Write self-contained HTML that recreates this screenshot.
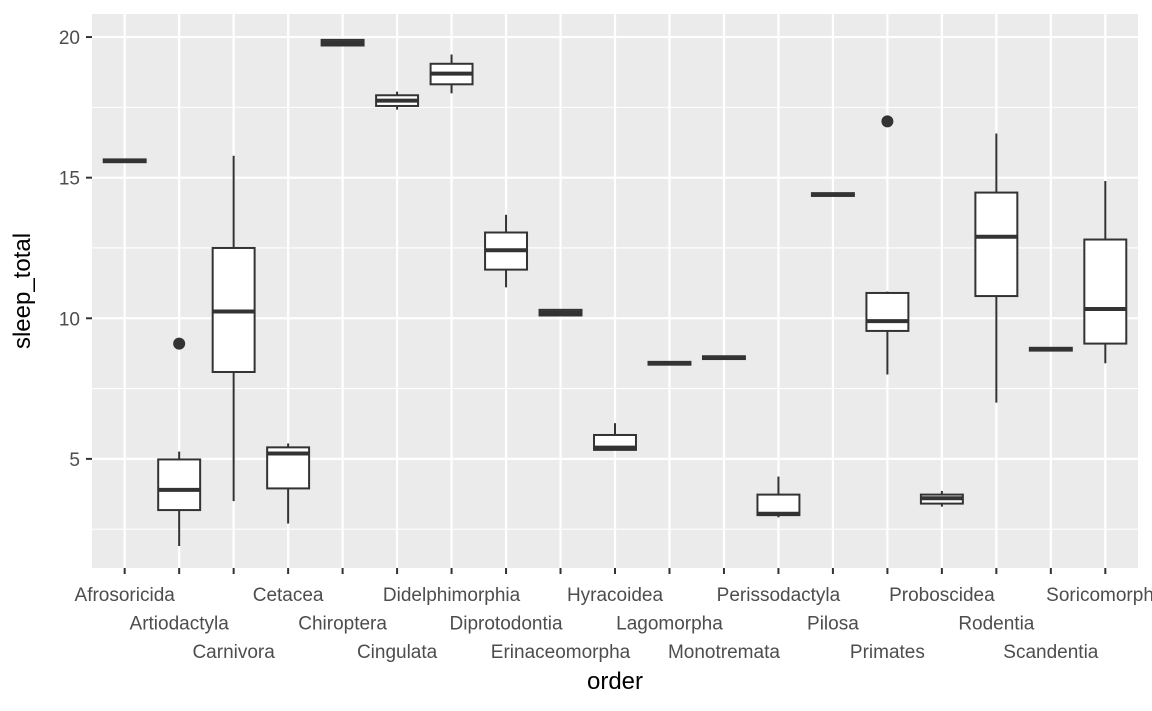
<!DOCTYPE html>
<html><head><meta charset="utf-8"><style>
body{margin:0;background:#fff;width:1152px;height:711px;overflow:hidden}
svg{display:block;font-family:"Liberation Sans","DejaVu Sans",sans-serif}
</style></head><body>
<svg id="chart" width="1152" height="711">
<rect x="92" y="14" width="1046" height="554" fill="#ebebeb"/>
<g id="grid"></g><g id="boxes"></g><g id="axes"></g>
<text x="615" y="689" text-anchor="middle" font-size="24" fill="#000">order</text>
<text transform="translate(30,291) rotate(-90)" text-anchor="middle" font-size="24" fill="#000">sleep_total</text>
</svg>
<script>
const categories=["Afrosoricida","Artiodactyla","Carnivora","Cetacea","Chiroptera","Cingulata","Didelphimorphia","Diprotodontia","Erinaceomorpha","Hyracoidea","Lagomorpha","Monotremata","Perissodactyla","Pilosa","Primates","Proboscidea","Rodentia","Scandentia","Soricomorpha"];
const whiskerLow=[15.6,1.9,3.5,2.7,19.7,17.42,18.0,11.1,10.1,5.3,8.4,8.6,2.92,14.4,8.0,3.3,7.0,8.9,8.4];
const q1=[15.55,3.18,8.09,3.95,19.7,17.55,18.32,11.73,10.1,5.32,8.35,8.55,3.0,14.35,9.55,3.41,10.79,8.85,9.1];
const median=[15.6,3.9,10.24,5.19,19.8,17.74,18.7,12.42,10.2,5.4,8.4,8.6,3.05,14.4,9.9,3.6,12.9,8.9,10.33];
const q3=[15.65,4.98,12.5,5.41,19.9,17.93,19.05,13.05,10.3,5.85,8.45,8.65,3.73,14.45,10.9,3.73,14.47,8.95,12.8];
const whiskerHigh=[15.6,5.26,15.78,5.55,19.9,18.06,19.38,13.68,10.3,6.27,8.4,8.6,4.37,14.4,10.95,3.86,16.57,8.9,14.88];
const outlierCat=[1,14];
const outlierVal=[9.1,17.0];
const yTicks=[5,10,15,20];
const yMinor=[2.5,7.5,12.5,17.5];
const NS="http://www.w3.org/2000/svg";
const yMinV=1.12,yMaxV=20.82,panelTop=14,panelBot=568,panelLeft=92,panelRight=1138;
function ys(v){return panelBot-(v-yMinV)/(yMaxV-yMinV)*(panelBot-panelTop);}
function xs(i){const step=(panelRight-panelLeft)/(categories.length+0.2);return panelLeft+step*0.6+i*step;}
function mk(tag,attrs,parent){const e=document.createElementNS(NS,tag);for(const k in attrs)e.setAttribute(k,attrs[k]);parent.appendChild(e);return e;}
const gridG=document.getElementById('grid'),boxesG=document.getElementById('boxes'),axesG=document.getElementById('axes');
yMinor.forEach(v=>{const l=mk('line',{x1:panelLeft,x2:panelRight,y1:ys(v),y2:ys(v),stroke:'#fff','stroke-width':1.1},gridG);

});
yTicks.forEach(v=>{const l=mk('line',{x1:panelLeft,x2:panelRight,y1:ys(v),y2:ys(v),stroke:'#fff','stroke-width':2.2},gridG);


const t=mk('line',{x1:86,x2:92,y1:ys(v),y2:ys(v),stroke:'#333','stroke-width':2},axesG);


const tx=mk('text',{x:80,y:ys(v)+7,'text-anchor':'end','font-size':19,fill:'#4d4d4d'},axesG);tx.textContent=v;

});
const bw=(panelRight-panelLeft)/(categories.length+0.2)*0.77;
categories.forEach((c,i)=>{const x=xs(i);
const g=mk('line',{x1:x,x2:x,y1:panelTop,y2:panelBot,stroke:'#fff','stroke-width':2.2},gridG);


const t=mk('line',{x1:x,x2:x,y1:panelBot,y2:panelBot+6,stroke:'#333','stroke-width':2},axesG);


const tx=mk('text',{x:x,y:601+(i%3)*28.5,'text-anchor':'middle','font-size':19,fill:'#4d4d4d'},axesG);tx.textContent=c;


const grp=mk('g',{},boxesG);


mk('line',{x1:x,x2:x,y1:ys(whiskerHigh[i]),y2:ys(q3[i]),stroke:'#333','stroke-width':2},grp);
mk('line',{x1:x,x2:x,y1:ys(q1[i]),y2:ys(whiskerLow[i]),stroke:'#333','stroke-width':2},grp);
mk('rect',{x:x-bw/2,y:ys(q3[i]),width:bw,height:Math.max(ys(q1[i])-ys(q3[i]),0.1),fill:'#fff',stroke:'#333','stroke-width':2},grp);
mk('line',{x1:x-bw/2,x2:x+bw/2,y1:ys(median[i]),y2:ys(median[i]),stroke:'#333','stroke-width':4},grp);
});
outlierCat.forEach((c,j)=>{const p=mk('circle',{cx:xs(c),cy:ys(outlierVal[j]),r:6,fill:'#333'},boxesG);

});
</script>
</body></html>
